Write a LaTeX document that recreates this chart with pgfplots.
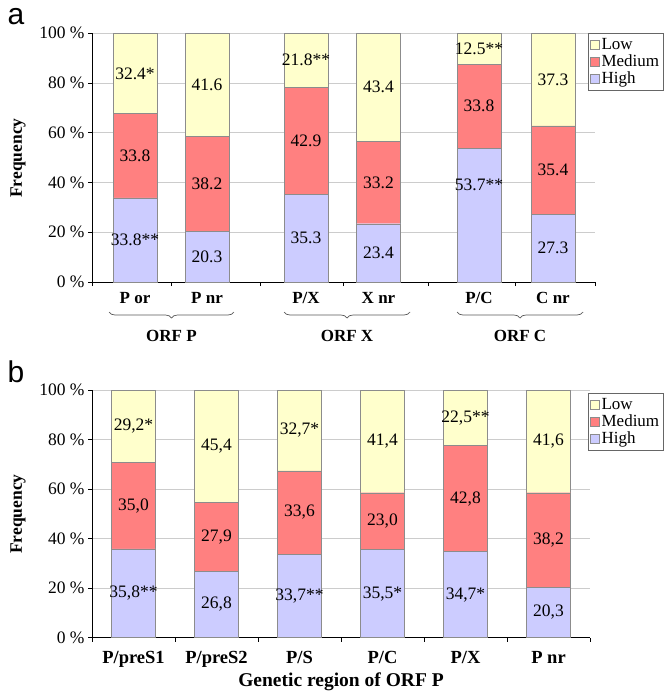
\documentclass[border=0pt]{standalone}
\usepackage{fontspec}
\setmainfont{Liberation Serif}
\newfontfamily\arialfont{Liberation Sans}
\usepackage{pgfplots}
\usepackage{pgfplotstable}
\pgfplotsset{compat=1.18}
\usetikzlibrary{decorations.pathreplacing}
\definecolor{lowc}{HTML}{FFFFCC}
\definecolor{medc}{HTML}{FF8080}
\definecolor{highc}{HTML}{CCCCFF}
\definecolor{barb}{HTML}{8C8C8C}

\pgfplotstableread{
x high med low
135 33.8 33.8 32.4
207 20.3 38.2 41.6
306 35.3 42.9 21.8
378.5 23.4 33.2 43.4
479 53.7 33.8 12.5
553 27.3 35.4 37.3
}\dataA

\pgfplotstableread{
x y lab
135 16.9 33.8**
135 50.7 33.8
135 83.8 32.4*
207 10.15 20.3
207 39.4 38.2
207 79.3 41.6
306 17.65 35.3
306 56.75 42.9
306 89.1 21.8**
378.5 11.7 23.4
378.5 40.0 33.2
378.5 78.3 43.4
479 39.0 53.7**
479 70.6 33.8
479 93.75 12.5**
553 13.65 27.3
553 45.0 35.4
553 81.3 37.3
}\labA

\pgfplotstableread{
x high med low
0 35.8 35.0 29.2
1 26.8 27.9 45.4
2 33.7 33.6 32.7
3 35.5 23.0 41.4
4 34.7 42.8 22.5
5 20.3 38.2 41.6
}\dataB

\pgfplotstableread{
x y lab
0 17.9 35,8**
0 53.3 35,0
0 85.4 29,2*
1 13.4 26,8
1 40.75 27,9
1 77.4 45,4
2 16.85 33,7**
2 50.5 33,6
2 83.65 32,7*
3 17.75 35,5*
3 47.0 23,0
3 79.2 41,4
4 17.35 34,7*
4 56.1 42,8
4 88.75 22,5**
5 10.15 20,3
5 39.4 38,2
5 79.3 41,6
}\labB

\pgfplotsset{
  common/.style={
    scale only axis, ybar stacked, bar width=44pt,
    ymin=0, ymax=100, ytick={0,20,40,60,80,100},
    yticklabels={0 \%,20 \%,40 \%,60 \%,80 \%,100 \%},
    ymajorgrids, major grid style={draw=black!20},
    axis x line*=bottom, axis y line*=left, axis line style={-},
    tick align=outside, major tick length=4pt,
    tick style={black, thin},
    xticklabels={},
    yticklabel style={font=\fontsize{17.5}{19}\selectfont},
    extra x tick style={major tick length=0pt, grid=none,
      xticklabel style={font=\fontsize{17}{19}\selectfont\bfseries, yshift=-7pt}},
    legend image code/.code={\draw[#1] (0pt,-4.5pt) rectangle (9pt,4.5pt);},
    reverse legend,
    legend style={draw=black!60, fill=white, font=\fontsize{17}{18}\selectfont,
      inner xsep=2pt, inner ysep=3.5pt, cells={anchor=west}, row sep=-0.5pt,
      /tikz/every even column/.append style={column sep=0pt}},
  },
  overlay/.style={
    scale only axis, hide axis, ymin=0, ymax=100, clip=false,
  },
  barlabels/.style={
    only marks, mark=*, mark size=0pt, mark options={draw=none, fill=none},
    nodes near coords, point meta=explicit symbolic,
    every node near coord/.style={anchor=center, inner sep=0pt,
      font=\fontsize{17.5}{19}\selectfont},
  },
}

\begin{document}
\begin{tikzpicture}
\path[use as bounding box] (0pt,0pt) rectangle (666pt,-693pt);

% ---- panel a
\begin{axis}[common, width=503pt, height=249pt, at={(92pt,-282pt)}, anchor=south west,
  xmin=92, xmax=595, xtick={92,171,260,343,428,515,595},
  extra x ticks={135,207,306,378.5,479,553},
  extra x tick labels={P or,P nr,P/X,X nr,P/C,C nr},
  legend style={at={(0.986,1)}, anchor=north west}]
\addplot[fill=highc, draw=barb] table[x=x, y=high] {\dataA};
\addplot[fill=medc, draw=barb] table[x=x, y=med] {\dataA};
\addplot[fill=lowc, draw=barb] table[x=x, y=low] {\dataA};
\legend{High,Medium,Low}
\end{axis}
\begin{axis}[overlay, width=503pt, height=249pt, at={(92pt,-282pt)}, anchor=south west,
  xmin=92, xmax=595]
\addplot[barlabels] table[x=x, y=y, meta=lab] {\labA};
\end{axis}

% ---- panel b
\begin{axis}[common, width=498pt, height=247.5pt, at={(92pt,-637.5pt)}, anchor=south west,
  xmin=-0.5, xmax=5.5, xtick={-0.5,0.5,...,5.5},
  extra x ticks={0,1,2,3,4,5},
  extra x tick labels={P/preS1,P/preS2,P/S,P/C,P/X,P nr},
  extra x tick style={major tick length=0pt, grid=none,
      xticklabel style={font=\fontsize{18.5}{20}\selectfont\bfseries, yshift=-3pt}},
  legend style={at={(0.996,0.988)}, anchor=north west}]
\addplot[fill=highc, draw=barb] table[x=x, y=high] {\dataB};
\addplot[fill=medc, draw=barb] table[x=x, y=med] {\dataB};
\addplot[fill=lowc, draw=barb] table[x=x, y=low] {\dataB};
\legend{High,Medium,Low}
\end{axis}
\begin{axis}[overlay, width=498pt, height=247.5pt, at={(92pt,-637.5pt)}, anchor=south west,
  xmin=-0.5, xmax=5.5]
\addplot[barlabels] table[x=x, y=y, meta=lab] {\labB};
\end{axis}

% ---- panel letters, axis titles, braces
\node[font=\arialfont\fontsize{30}{32}\selectfont] at (16pt,-17pt) {a};
\node[font=\arialfont\fontsize{30}{32}\selectfont] at (16pt,-372pt) {b};
\node[rotate=90, font=\fontsize{17.5}{19}\selectfont\bfseries] at (18pt,-158pt) {Frequency};
\node[rotate=90, font=\fontsize{17.5}{19}\selectfont\bfseries] at (18pt,-514pt) {Frequency};
\node[font=\fontsize{19.5}{21}\selectfont\bfseries] at (341pt,-682pt) {Genetic region of ORF P};

\begin{scope}[draw=black!65, line width=0.7pt, decoration={brace, mirror, amplitude=6pt}]
\draw[decorate] (109pt,-312pt) -- (234pt,-312pt);
\draw[decorate] (284pt,-312pt) -- (410pt,-312pt);
\draw[decorate] (457pt,-312pt) -- (583pt,-312pt);
\end{scope}
\node[font=\fontsize{17}{19}\selectfont\bfseries] at (171.5pt,-336pt) {ORF P};
\node[font=\fontsize{17}{19}\selectfont\bfseries] at (347pt,-336pt) {ORF X};
\node[font=\fontsize{17}{19}\selectfont\bfseries] at (520pt,-336pt) {ORF C};
\end{tikzpicture}
\end{document}
